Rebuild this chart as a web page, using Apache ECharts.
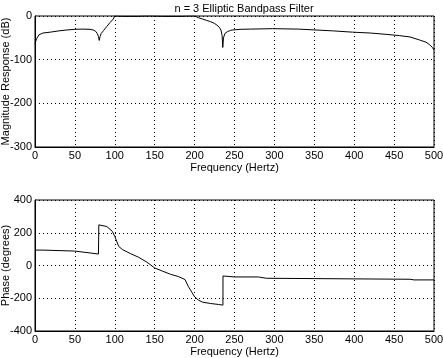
<!DOCTYPE html>
<html><head><meta charset="utf-8">
<script src="https://cdn.jsdelivr.net/npm/echarts@6/dist/echarts.min.js"></script>
<style>html,body{margin:0;padding:0;background:#fff}#c{width:443px;height:358px}</style>
</head><body><div id="c"></div>
<script>
var titleText = 'n = 3 Elliptic Bandpass Filter';
var xName = 'Frequency (Hertz)';
var magName = 'Magnitude Response (dB)';
var phaseName = 'Phase (degrees)';
var magFreq = [0,2,5,10,19,30,40,50,60,69,73,76,78,79.5,80.5,81.5,83,86,90,94,98,100,105,110,120,130,135,145,150,160,185,190,200,205,210,215,220,225,228,231,233,234.5,235.3,236.2,238,241,245,248,257,270,298,330,373,398,420,440,457,470,482,490,494,498,500];
var magVals = [-63,-52,-43,-39,-37,-34,-32,-30.5,-30,-30.5,-32,-35,-40,-47,-56,-47,-40,-33,-24,-15,-7,0,-0.5,-1,-1,-1,-0.3,0,-0.3,-1,-1,-0.3,0,-4,-7,-10,-13,-17,-21,-26,-32,-45,-72,-50,-40,-36,-33,-32,-30.5,-30,-29,-30,-34,-37,-39,-42,-45,-48,-55,-60,-65,-72,-78];
var phFreq = [0,10,10.5,50,50.5,70,79.5,80,90,97,100,105,110,120,130,140,150,160,170,180,188,192,197,200,205,210,220,230,235.5,235.6,250,280,290,350,350.5,470,475,500];
var phVals = [94,94,88,88,82,76,70,248,238,208,177,116,96,72,50,21,-15,-35,-54,-68,-86,-127,-167,-191,-212,-224,-232,-238,-242,-64,-70,-70,-78,-80,-84,-84,-88,-88];
var magTicks = [-300,0,100];
var phaseTicks = [-400,400,200];
var freqTicks = [0,500,50];

var chart = echarts.init(document.getElementById('c'));
var font = 'Liberation Sans';
function xa(gi){
  return {type:'value',gridIndex:gi,min:freqTicks[0],max:freqTicks[1],interval:freqTicks[2],
    name:xName,nameLocation:'middle',nameGap:15,nameMoveOverlap:false,
    nameTextStyle:{color:'#000',fontFamily:font,fontSize:11,verticalAlign:'top'},
    axisLine:{onZero:false,lineStyle:{color:'#000',width:1}},axisTick:{show:false},
    axisLabel:{color:'#000',fontFamily:font,fontSize:11,margin:3},
    splitLine:{show:true,lineStyle:{color:'#000',type:[1,3],width:1}}};
}
function ya(gi,t,name,gap){
  return {type:'value',gridIndex:gi,min:t[0],max:t[1],interval:t[2],
    name:name,nameLocation:'middle',nameGap:gap,nameMoveOverlap:false,
    nameTextStyle:{color:'#000',fontFamily:font,fontSize:11},
    axisLine:{show:true,onZero:false,lineStyle:{color:'#000',width:1}},axisTick:{show:false},
    axisLabel:{color:'#000',fontFamily:font,fontSize:11,margin:3},
    splitLine:{show:true,lineStyle:{color:'#000',type:[1,3],width:1}}};
}
function pairs(a,b){var r=[];for(var i=0;i<a.length;i++)r.push([a[i],b[i]]);return r;}
chart.setOption({
  animation:false,
  backgroundColor:'#fff',
  title:{text:titleText,left:239,top:-2,textAlign:'center',textStyle:{color:'#000',fontFamily:font,fontSize:11,fontWeight:'normal'}},
  grid:[
    {left:35,right:9,top:16,height:131,show:true,borderColor:'#000',borderWidth:1,containLabel:false,outerBoundsMode:'none'},
    {left:35,right:9,top:200,height:131,show:true,borderColor:'#000',borderWidth:1,containLabel:false,outerBoundsMode:'none'}
  ],
  xAxis:[xa(0),xa(1)],
  yAxis:[ya(0,magTicks,magName,24),ya(1,phaseTicks,phaseName,24)],
  series:[
    {type:'line',xAxisIndex:0,yAxisIndex:0,data:pairs(magFreq,magVals),showSymbol:false,lineStyle:{color:'#000',width:1},clip:true},
    {type:'line',xAxisIndex:1,yAxisIndex:1,data:pairs(phFreq,phVals),showSymbol:false,lineStyle:{color:'#000',width:1},clip:true}
  ]
});
</script></body></html>
